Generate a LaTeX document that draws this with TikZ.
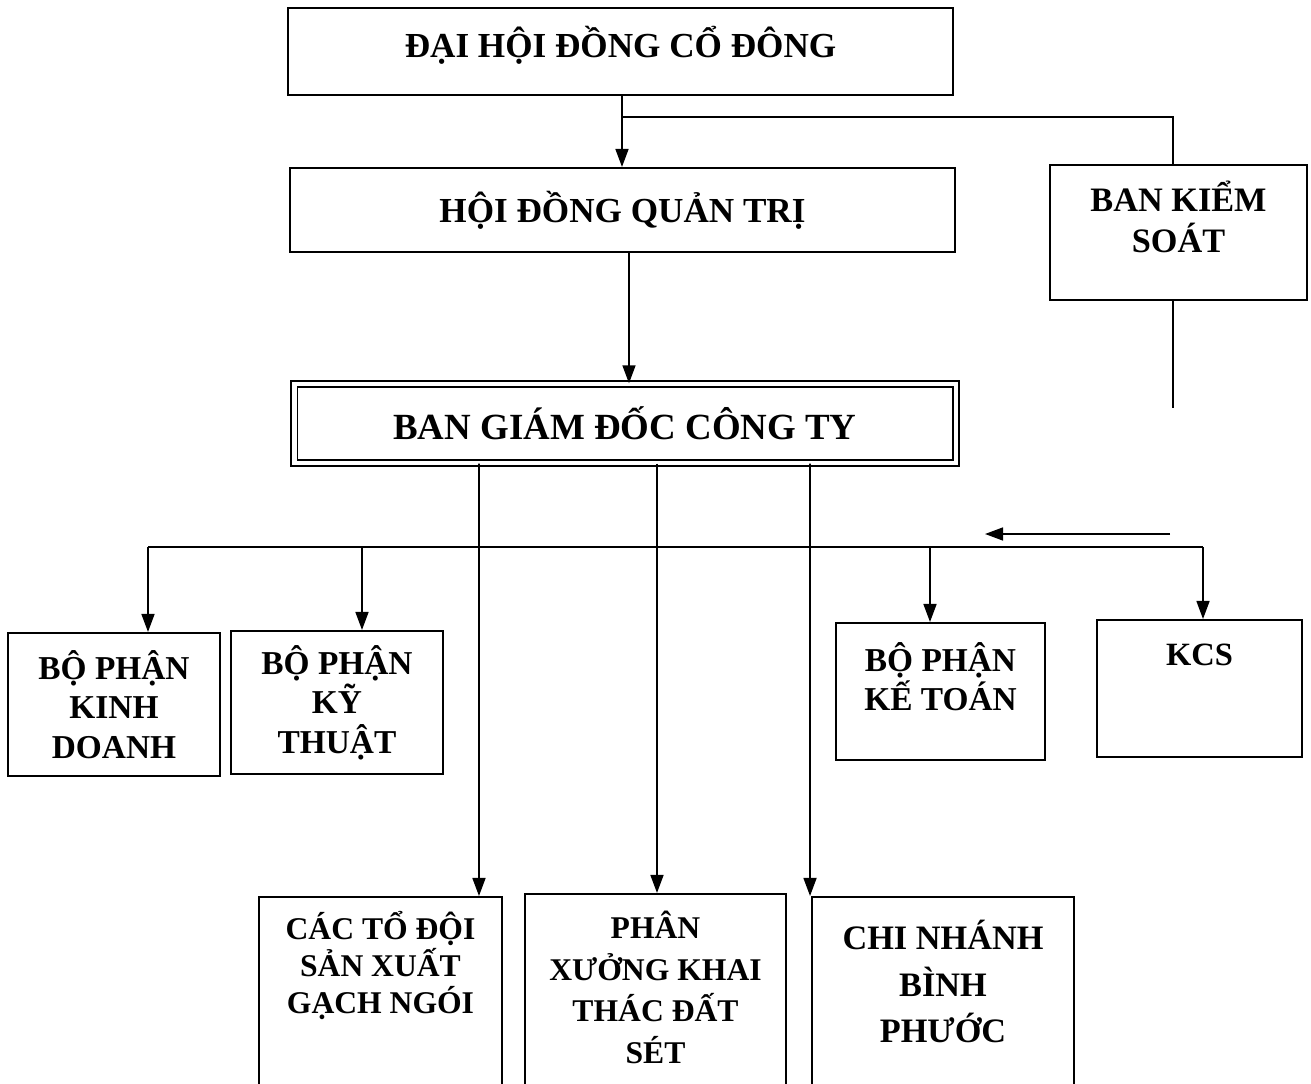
\documentclass[tikz,border=0pt]{standalone}
\usepackage{fontspec}
\setmainfont{Liberation Serif}
\usetikzlibrary{arrows.meta}

\tikzset{
  box/.style={draw, line width=1.2pt, inner sep=0pt},
  title/.style={font=\fontsize{20}{24}\selectfont\bfseries, align=center},
  unit/.style={font=\fontsize{19}{22.5}\selectfont\bfseries, align=center},
  shop/.style={font=\fontsize{18}{21.3}\selectfont\bfseries, align=center},
  arr/.style={-{Triangle[length=0.36cm,width=0.26cm]}, line width=0.9pt},
  link/.style={line width=0.9pt},
}

\begin{document}
\begin{tikzpicture}[x=0.02cm,y=-0.02cm]
\useasboundingbox (0,0) rectangle (1311,1084);
\clip (0,0) rectangle (1311,1084);

% top of the chart
\node[box, title, text depth=0.4cm, minimum width=13.3cm, minimum height=1.74cm] (dhcd) at (620.5,51.5) {ĐẠI HỘI ĐỒNG CỔ ĐÔNG};
\node[box, title, minimum width=13.3cm, minimum height=1.68cm] (hdqt) at (622.5,210) {HỘI ĐỒNG QUẢN TRỊ};
\node[box, minimum width=5.14cm, minimum height=2.7cm] (bks) at (1178.5,232.5) {};
\node[unit, font=\fontsize{19.5}{23}\selectfont\bfseries] (bks-t) at (1178.5,217) {BAN KIỂM\\SOÁT};
\node[draw, double, double distance=2.5pt, line width=1.1pt, inner sep=0pt,
      title, font=\fontsize{21}{25}\selectfont\bfseries,
      minimum width=13.23cm, minimum height=1.57cm] (bgd) at (625,423.5) {BAN GIÁM ĐỐC CÔNG TY};

% departments
\node[box, unit, minimum width=4.24cm, minimum height=2.86cm] (kd) at (114,704.5) {BỘ PHẬN\\KINH\\DOANH};
\node[box, unit, minimum width=4.24cm, minimum height=2.86cm] (kt) at (337,702.5) {BỘ PHẬN\\KỸ\\THUẬT};
\node[box, minimum width=4.18cm, minimum height=2.74cm] (ktoan) at (940.5,691.5) {};
\node[unit] (ktoan-t) at (940.5,676.5) {BỘ PHẬN\\KẾ TOÁN};
\node[box, minimum width=4.1cm, minimum height=2.74cm] (kcs) at (1199.5,688.5) {};
\node[unit, font=\fontsize{18.5}{22}\selectfont\bfseries] (kcs-t) at (1199.5,655) {KCS};

% production units
\node[box, minimum width=4.86cm, minimum height=4.26cm] (sx) at (380.5,1003.5) {};
\node[shop] (sx-t) at (380.5,965.5) {CÁC TỔ ĐỘI\\SẢN XUẤT\\GẠCH NGÓI};
\node[box, minimum width=5.22cm, minimum height=4.32cm] (px) at (655.5,1002) {};
\node[shop, font=\fontsize{18}{23.6}\selectfont\bfseries] (px-t) at (655.5,987.5) {PHÂN\\XƯỞNG KHAI\\THÁC ĐẤT\\SÉT};
\node[box, minimum width=5.24cm, minimum height=4.26cm] (cn) at (943,1003.5) {};
\node[unit, font=\fontsize{19.5}{26.4}\selectfont\bfseries] (cn-t) at (943,981.5) {CHI NHÁNH\\BÌNH\\PHƯỚC};

% connectors
\coordinate (jA) at (622,117);
\coordinate (jB) at (629,300);
\coordinate (bksEnd) at (1173,408);
\coordinate (busL) at (148,547);
\coordinate (busR) at (1203,547);
\coordinate (backS) at (1170,534);
\coordinate (backE) at (985,534);
\coordinate (dropKT) at (362,547);
\coordinate (dropKToan) at (930,547);

\draw[arr] (dhcd.south -| jA) -- (hdqt.north -| jA);
\draw[link] (bks.north -| bksEnd) |- (jA);
\draw[arr] (hdqt.south -| jB) -- (bgd.north -| jB);
\draw[link] (bks.south -| bksEnd) -- (bksEnd);

\draw[link] (busL) -- (busR);
\draw[arr] (busL) -- (busL |- kd.north);
\draw[arr] (dropKT) -- (dropKT |- kt.north);
\draw[arr] (dropKToan) -- (dropKToan |- ktoan.north);
\draw[arr] (busR) -- (busR |- kcs.north);
\draw[arr] (backS) -- (backE);

\draw[arr] ([xshift=-2.92cm]bgd.south) -- ([xshift=1.97cm]sx.north);
\draw[arr] ([xshift=0.64cm]bgd.south) -- ([xshift=0.64cm]bgd.south |- px.north);
\draw[arr] ([xshift=3.7cm]bgd.south) -- ([xshift=-2.66cm]cn.north);
\end{tikzpicture}
\end{document}
